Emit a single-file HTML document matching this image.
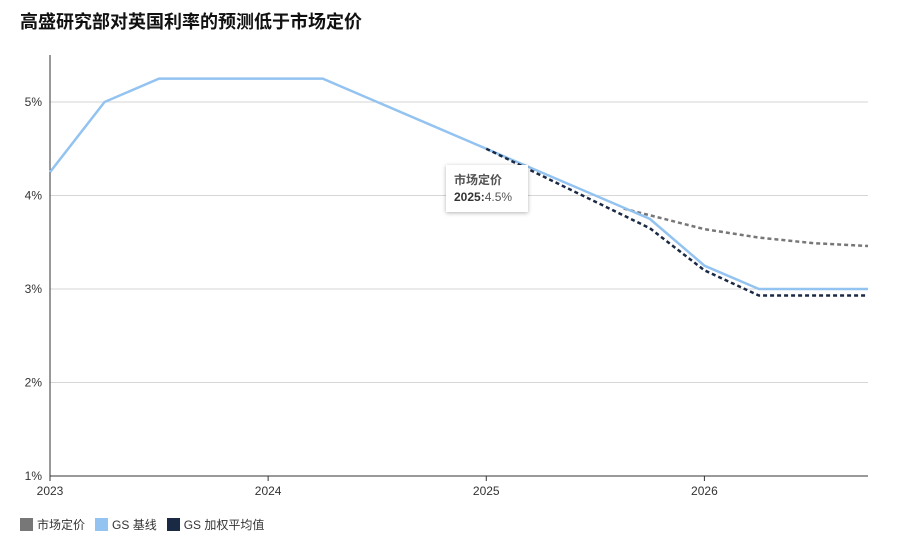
<!DOCTYPE html>
<html><head><meta charset="utf-8">
<style>
body{margin:0;background:#fff;font-family:"Liberation Sans","Noto Sans CJK SC",sans-serif;}
#wrap{position:relative;width:915px;height:542px;}
h1{position:absolute;left:20px;top:8px;margin:0;font-size:18px;font-weight:bold;color:#111;}
svg text{font-family:"Liberation Sans","Noto Sans CJK SC",sans-serif;}
#tip{position:absolute;left:446px;top:165px;width:82px;height:47px;background:#fff;box-shadow:0 1px 4px rgba(0,0,0,.3);font-size:12px;color:#555;box-sizing:border-box;padding:7px 8px;line-height:17px;}
#legend{position:absolute;left:20px;top:516px;font-size:12px;color:#333;display:flex;gap:10px;}
.li{display:flex;align-items:center;gap:4px}
.sw{width:13px;height:13px;display:inline-block}
</style></head><body>
<div id="wrap">
<h1>高盛研究部对英国利率的预测低于市场定价</h1>
<svg id="c" width="915" height="542"></svg>
<div id="tip"><b>市场定价</b><br><b style="color:#333">2025:</b>4.5%</div>
<div id="legend">
<span class="li"><span class="sw" style="background:#777"></span>市场定价</span>
<span class="li"><span class="sw" style="background:#93c3f0"></span>GS 基线</span>
<span class="li"><span class="sw" style="background:#1b2a44"></span>GS 加权平均值</span>
</div>
</div>
<script>
const yTicks=[1,2,3,4,5];
const xTicks=[2023,2024,2025,2026];
const baseX=[2023,2023.25,2023.5,2024.25,2025,2025.75,2026,2026.25,2026.75];
const baseY=[4.25,5.0,5.25,5.25,4.5,3.75,3.25,3.0,3.0];
const wX=[2025,2025.75,2026,2026.25,2026.75];
const wY=[4.5,3.65,3.2,2.93,2.93];
const mX=[2025.63,2026,2026.25,2026.5,2026.75];
const mY=[3.86,3.64,3.55,3.49,3.46];
const L=50,R=868,T=55,B=476;
const x=v=>L+(v-2023)/(2026.75-2023)*(R-L);
const y=v=>B-(v-1)/4*(B-102);
const s=document.getElementById('c'),NS='http://www.w3.org/2000/svg';
function el(t,a){const e=document.createElementNS(NS,t);for(const k in a)e.setAttribute(k,a[k]);s.appendChild(e);return e;}
yTicks.forEach(v=>{
 if(v>1){const g=el('line',{x1:L,x2:R,y1:y(v),y2:y(v),stroke:'#d6d6d6'});
 
 }
 const t=el('text',{x:L-8,y:y(v)+4,'text-anchor':'end','font-size':12,fill:'#333'});t.textContent=v+'%';
 
 
});
xTicks.forEach(v=>{
 el('line',{x1:x(v),x2:x(v),y1:B,y2:B+5,stroke:'#333'});
 const t=el('text',{x:x(v),y:B+19,'text-anchor':'middle','font-size':12,fill:'#333'});t.textContent=v;
 
 
});
el('line',{x1:L,x2:L,y1:T,y2:B,stroke:'#333'});
el('line',{x1:L,x2:R,y1:B,y2:B,stroke:'#333'});
function line(xs,ys,c,w,d,n){
 const p=el('polyline',{points:xs.map((v,i)=>x(v)+','+y(ys[i])).join(' '),fill:'none',stroke:c,'stroke-width':w,'stroke-dasharray':d});
 
 
}
line(mX,mY,'#777',2.5,'4 3','market-line');
line(baseX,baseY,'#93c3f0',2.5,'none','gs-base-line');
line(wX,wY,'#1b2a44',2.5,'4 3','gs-weighted-line');
</script>
</body></html>
